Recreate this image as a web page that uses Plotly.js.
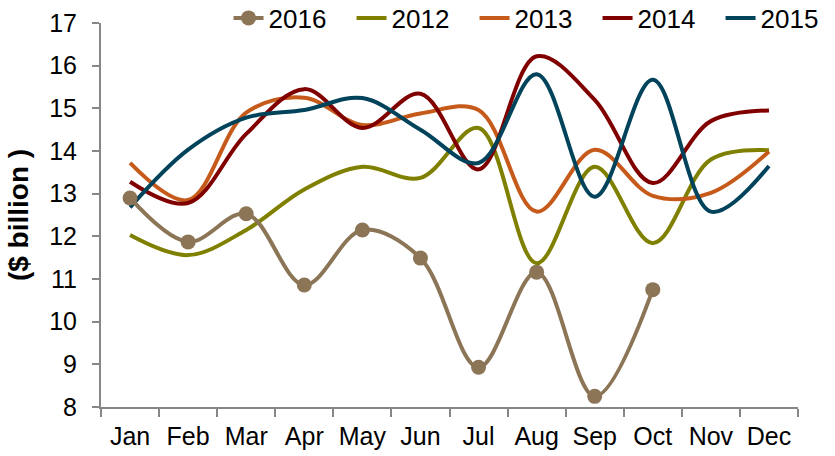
<!DOCTYPE html>
<html>
<head>
<meta charset="utf-8">
<script src="https://cdn.plot.ly/plotly-3.0.1.min.js"></script>
<style>html,body{margin:0;padding:0;background:#fff;}#chart{width:835px;height:456px;}</style>
</head>
<body>
<div id="chart"></div>
<script>
const months = ["Jan","Feb","Mar","Apr","May","Jun","Jul","Aug","Sep","Oct","Nov","Dec"];
const y2016 = [12.90, 11.87, 12.53, 10.86, 12.15, 11.49, 8.93, 11.16, 8.25, 10.75];
const y2012 = [12.03, 11.56, 12.15, 13.10, 13.63, 13.37, 14.54, 11.37, 13.63, 11.84, 13.80, 14.02];
const y2013 = [13.72, 12.85, 14.90, 15.25, 14.61, 14.88, 14.96, 12.58, 14.03, 12.95, 13.02, 13.99];
const y2014 = [13.28, 12.78, 14.40, 15.45, 14.54, 15.34, 13.57, 16.22, 15.20, 13.25, 14.70, 14.95];
const y2015 = [12.68, 14.03, 14.78, 14.96, 15.24, 14.50, 13.72, 15.80, 12.93, 15.67, 12.58, 13.65];

const seriesNames = ["2012","2013","2014","2015","2016"];
const seriesData = [y2012, y2013, y2014, y2015, y2016];
const colors = ["#808000", "#C55A1A", "#800000", "#00435A", "#8B7556"];

const traces = seriesData.map((ys, i) => ({
  type: "scatter",
  mode: seriesNames[i] === "2016" ? "lines+markers" : "lines",
  name: seriesNames[i],
  x: months.slice(0, ys.length),
  y: ys,
  line: {color: colors[i], width: 4, shape: "spline", smoothing: 1},
  marker: {color: colors[i], size: 15},
  legendrank: seriesNames[i] === "2016" ? 1 : i + 2
}));

const layout = {
  width: 835, height: 456,
  margin: {l: 101, r: 37, t: 23, b: 49, autoexpand: false},
  paper_bgcolor: "#fff", plot_bgcolor: "#fff",
  font: {family: "Liberation Sans, Arial, sans-serif", color: "#000", size: 25},
  showlegend: true,
  legend: {
    orientation: "h", x: 0.183, xanchor: "left", y: 1.013, yref: "paper", yanchor: "middle",
    font: {size: 26, color: "#000"}, entrywidth: 78, entrywidthmode: "pixels", traceorder: "normal",
    bgcolor: "rgba(0,0,0,0)"
  },
  xaxis: {
    type: "category", range: [-0.5, 11.5], showgrid: false, zeroline: false,
    showline: true, linecolor: "#878787", linewidth: 2,
    ticks: "outside", ticklen: 8, tickwidth: 2, tickcolor: "#878787",
    tickson: "boundaries", tickfont: {size: 25}, ticklabelstandoff: 6, fixedrange: true
  },
  yaxis: {
    range: [8, 17], dtick: 1, showgrid: false, zeroline: false,
    showline: true, linecolor: "#878787", linewidth: 2,
    ticks: "outside", ticklen: 7, tickwidth: 2, tickcolor: "#878787",
    tickfont: {size: 25}, ticklabelstandoff: 10,
    title: {text: "<b>($ billion )</b>", font: {size: 28}, standoff: 12}
  }
};

Plotly.newPlot("chart", traces, layout, {displayModeBar: false, staticPlot: true});
</script>
</body>
</html>
